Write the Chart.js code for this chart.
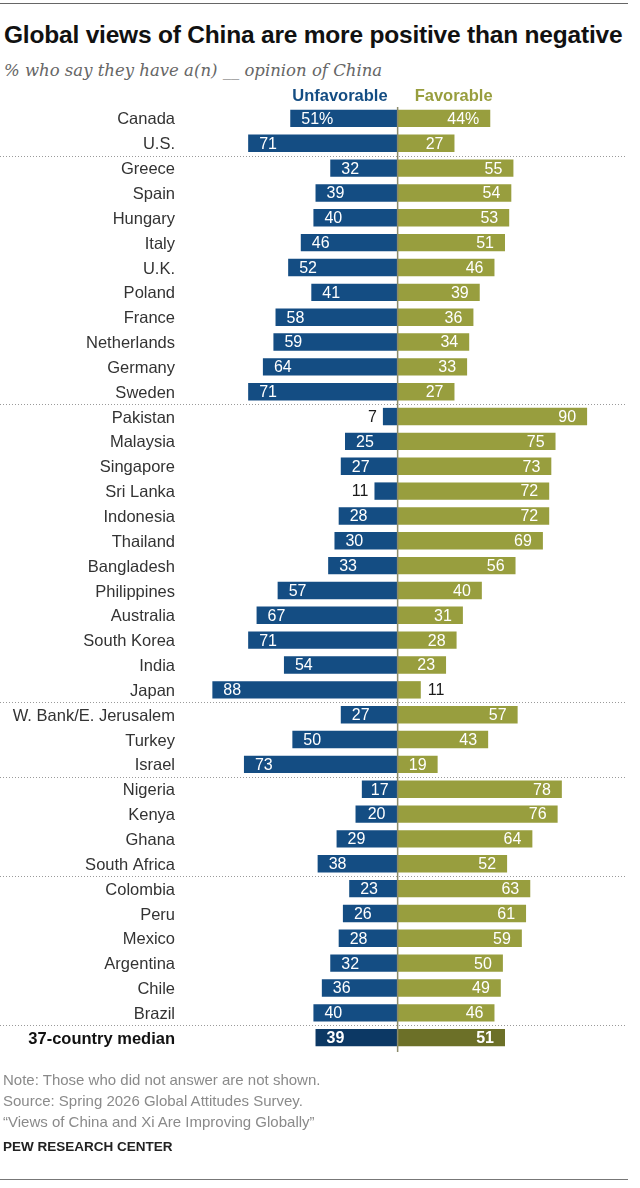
<!DOCTYPE html>
<html lang="en">
    <head>
        <meta charset="UTF-8" />
        <title>Global views of China</title>
        <script src="https://cdn.jsdelivr.net/npm/chart.js"></script>
        <style>
            body {
                margin: 0;
                background: #fff;
                font-family: "Liberation Sans", Arial, sans-serif;
                width: 640px;
                height: 1188px;
                position: relative;
                overflow: hidden;
            }
            .rule {
                position: absolute;
                left: 0;
                width: 628px;
                height: 0;
                border-top: 1.5px solid #666;
            }
            #title {
                position: absolute;
                left: 4px;
                top: 21px;
                font-size: 24.5px;
                font-weight: bold;
                color: #111;
                letter-spacing: -0.2px;
                white-space: nowrap;
            }
            #subtitle {
                position: absolute;
                left: 4px;
                top: 61px;
                font-family: "DejaVu Serif", serif;
                font-style: italic;
                font-size: 16.5px;
                color: #666;
                white-space: nowrap;
            }
            #chart-box {
                position: absolute;
                left: 0;
                top: 80px;
                width: 640px;
                height: 990px;
            }
            #notes {
                position: absolute;
                left: 3px;
                top: 1069px;
                font-size: 15px;
                line-height: 21px;
                color: #8a8a8a;
            }
            #brand {
                position: absolute;
                left: 3px;
                top: 1139px;
                font-size: 13.5px;
                font-weight: bold;
                color: #222;
            }
        </style>
    </head>
    <body>
        <div class="rule" style="top: 3px"></div>
        <div id="title">Global views of China are more positive than negative</div>
        <div id="subtitle">% who say they have a(n) __ opinion of China</div>
        <div id="chart-box"><canvas id="chinaChart"></canvas></div>
        <div id="notes">
            Note: Those who did not answer are not shown.<br />
            Source: Spring 2026 Global Attitudes Survey.<br />
            “Views of China and Xi Are Improving Globally”
        </div>
        <div id="brand">PEW RESEARCH CENTER</div>
        <div class="rule" style="top: 1179px; border-top-color: #777"></div>

        <script>
            const countries = [
                "Canada", "U.S.",
                "Greece", "Spain", "Hungary", "Italy", "U.K.", "Poland",
                "France", "Netherlands", "Germany", "Sweden",
                "Pakistan", "Malaysia", "Singapore", "Sri Lanka", "Indonesia",
                "Thailand", "Bangladesh", "Philippines", "Australia",
                "South Korea", "India", "Japan",
                "W. Bank/E. Jerusalem", "Turkey", "Israel",
                "Nigeria", "Kenya", "Ghana", "South Africa",
                "Colombia", "Peru", "Mexico", "Argentina", "Chile", "Brazil",
                "37-country median",
            ];
            const unfavorable = [
                51, 71,
                32, 39, 40, 46, 52, 41, 58, 59, 64, 71,
                7, 25, 27, 11, 28, 30, 33, 57, 67, 71, 54, 88,
                27, 50, 73,
                17, 20, 29, 38,
                23, 26, 28, 32, 36, 40,
                39,
            ];
            const favorable = [
                44, 27,
                55, 54, 53, 51, 46, 39, 36, 34, 33, 27,
                90, 75, 73, 72, 72, 69, 56, 40, 31, 28, 23, 11,
                57, 43, 19,
                78, 76, 64, 52,
                63, 61, 59, 50, 49, 46,
                51,
            ];
            // dotted separators go below these rows
            const groupEnds = [1, 11, 23, 26, 30, 36];

            const FONT = '"Liberation Sans", Arial, sans-serif';
            const BLUE = "#144d83";
            const GREEN = "#989e3e";
            const BLUE_DARK = "#0c3864";
            const GREEN_DARK = "#6c7028";
            const last = countries.length - 1;

            // center line, separators, headers and value labels
            const decorations = {
                id: "decorations",
                beforeDatasetsDraw(chart) {
                    const { ctx, chartArea, scales } = chart;
                    const x0 = scales.x.getPixelForValue(0);
                    ctx.save();
                    ctx.strokeStyle = "#9a9a9a";
                    ctx.lineWidth = 1;
                    ctx.setLineDash([1, 2]);
                    groupEnds.forEach((i) => {
                        const y = Math.round(
                            (scales.y.getPixelForValue(i) + scales.y.getPixelForValue(i + 1)) / 2
                        ) + 0.5;
                        ctx.beginPath();
                        ctx.moveTo(0, y);
                        ctx.lineTo(626, y);
                        ctx.stroke();
                    });
                    ctx.restore();

                    ctx.save();
                    ctx.font = "bold 16.5px " + FONT;
                    ctx.textBaseline = "middle";
                    ctx.textAlign = "right";
                    ctx.fillStyle = BLUE;
                    ctx.fillText("Unfavorable", x0 - 10, chartArea.top - 10);
                    ctx.textAlign = "left";
                    ctx.fillStyle = GREEN;
                    ctx.fillText("Favorable", x0 + 17, chartArea.top - 10);
                    ctx.restore();
                },
                afterDatasetsDraw(chart) {
                    const { ctx, chartArea, scales } = chart;
                    const x0 = scales.x.getPixelForValue(0);
                    ctx.save();
                    ctx.strokeStyle = "#8a8a6a";
                    ctx.lineWidth = 1.5;
                    ctx.beginPath();
                    ctx.moveTo(x0, chartArea.top + 1);
                    ctx.lineTo(x0, chartArea.bottom + 2);
                    ctx.stroke();

                    ctx.textBaseline = "middle";
                    chart.data.datasets.forEach((ds, di) => {
                        chart.getDatasetMeta(di).data.forEach((bar, i) => {
                            const v = Math.abs(ds.data[i]);
                            const txt = v + (i === 0 ? "%" : "");
                            const w = Math.abs(bar.x - bar.base);
                            ctx.font = (i === last ? "bold " : "") + "16px " + FONT;
                            const y = bar.y + 1;
                            if (v < 13) {
                                ctx.fillStyle = "#1a1a1a";
                                if (di === 0) {
                                    ctx.textAlign = "right";
                                    ctx.fillText(txt, bar.x - 6, y);
                                } else {
                                    ctx.textAlign = "left";
                                    ctx.fillText(txt, bar.x + 7, y);
                                }
                                return;
                            }
                            ctx.fillStyle = "#fff";
                            if (w < 48) {
                                ctx.textAlign = "center";
                                ctx.fillText(txt, (bar.x + bar.base) / 2, y);
                            } else if (di === 0) {
                                ctx.textAlign = "left";
                                ctx.fillText(txt, bar.x + 11, y);
                            } else {
                                ctx.textAlign = "right";
                                ctx.fillText(txt, bar.x - 11, y);
                            }
                        });
                    });
                    ctx.restore();
                },
            };

            const ctx = document.getElementById("chinaChart").getContext("2d");

            const chinaChart = new Chart(ctx, {
                type: "bar",
                data: {
                    labels: countries,
                    datasets: [
                        {
                            label: "Unfavorable",
                            data: unfavorable.map((v) => -v),
                            backgroundColor: (c) => (c.dataIndex === last ? BLUE_DARK : BLUE),
                        },
                        {
                            label: "Favorable",
                            data: favorable,
                            backgroundColor: (c) => (c.dataIndex === last ? GREEN_DARK : GREEN),
                        },
                    ],
                },
                options: {
                    indexAxis: "y",
                    responsive: true,
                    maintainAspectRatio: false,
                    animation: false,
                    barPercentage: 0.7,
                    categoryPercentage: 1,
                    layout: { padding: { top: 26, right: 15, bottom: 3, left: 0 } },
                    scales: {
                        x: {
                            stacked: true,
                            display: false,
                            min: -101,
                            max: 108,
                        },
                        y: {
                            stacked: true,
                            grid: { display: false, drawTicks: false },
                            border: { display: false },
                            ticks: {
                                padding: 10,
                                labelOffset: 1.5,
                                color: (c) => (c.index === last ? "#111" : "#333"),
                                font: (c) => ({
                                    family: FONT,
                                    size: 16.5,
                                    weight: c.index === last ? "bold" : "normal",
                                }),
                            },
                            afterFit(scale) {
                                scale.width = 185;
                            },
                        },
                    },
                    plugins: {
                        legend: { display: false },
                        tooltip: { enabled: false },
                    },
                },
                plugins: [decorations],
            });
        </script>
    </body>
</html>
